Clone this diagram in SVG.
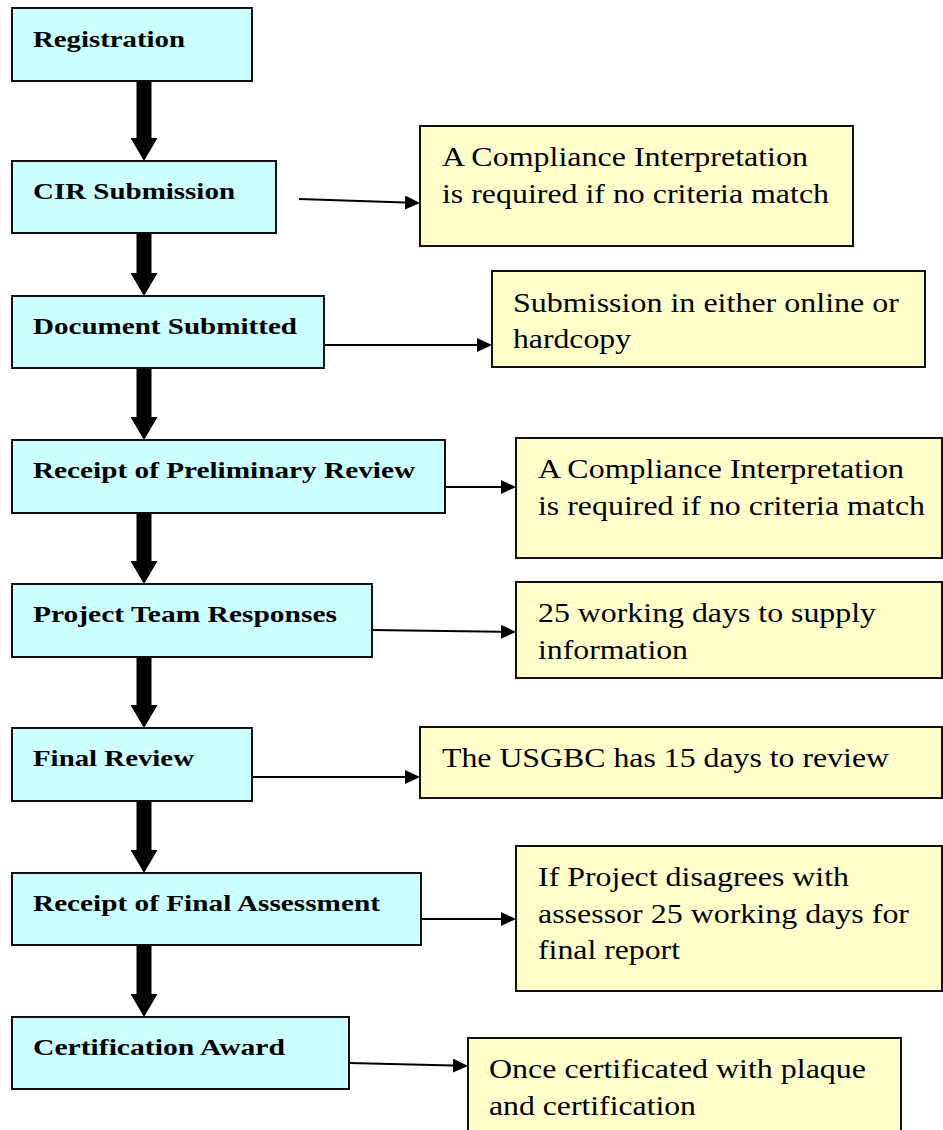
<svg xmlns="http://www.w3.org/2000/svg" width="943" height="1130" viewBox="0 0 943 1130">
<style>
.step{fill:#CCFFFF;stroke:#111;stroke-width:2}
.note{fill:#FFFFCC;stroke:#111;stroke-width:2}
text{font-family:'Liberation Serif','Times New Roman',Times,serif;fill:#000}
.st{font-weight:bold;font-size:24px}
.nt{font-size:27px}
.thick{stroke:#000;stroke-width:15;fill:none}
.thin{stroke:#000;stroke-width:2;fill:none}
</style>
<defs>
<marker id="bigHead" markerUnits="userSpaceOnUse" viewBox="0 0 23 27" refX="0" refY="13.5" markerWidth="23" markerHeight="27" orient="auto">
<path d="M0,0 L23,13.5 L0,27 Z" fill="#000"/>
</marker>
<marker id="smallHead" markerUnits="userSpaceOnUse" viewBox="0 0 15 14" refX="0" refY="7" markerWidth="15" markerHeight="14" orient="auto">
<path d="M0,0 L15,7 L0,14 Z" fill="#000"/>
</marker>
</defs>
<rect width="943" height="1130" fill="#fff"/>
<g id="connectors">
<line class="thick" x1="144" y1="81" x2="144" y2="138" marker-end="url(#bigHead)"/>
<line class="thick" x1="144" y1="233" x2="144" y2="273" marker-end="url(#bigHead)"/>
<line class="thick" x1="144" y1="368" x2="144" y2="417" marker-end="url(#bigHead)"/>
<line class="thick" x1="144" y1="513" x2="144" y2="561" marker-end="url(#bigHead)"/>
<line class="thick" x1="144" y1="657" x2="144" y2="705" marker-end="url(#bigHead)"/>
<line class="thick" x1="144" y1="801" x2="144" y2="850" marker-end="url(#bigHead)"/>
<line class="thick" x1="144" y1="945" x2="144" y2="994" marker-end="url(#bigHead)"/>
<line class="thin" x1="299" y1="199" x2="405" y2="202.5" marker-end="url(#smallHead)"/>
<line class="thin" x1="324" y1="345" x2="477" y2="345" marker-end="url(#smallHead)"/>
<line class="thin" x1="445" y1="487" x2="501" y2="487" marker-end="url(#smallHead)"/>
<line class="thin" x1="372" y1="630" x2="501" y2="631.8" marker-end="url(#smallHead)"/>
<line class="thin" x1="252" y1="777" x2="405" y2="777" marker-end="url(#smallHead)"/>
<line class="thin" x1="421" y1="919" x2="501" y2="919" marker-end="url(#smallHead)"/>
<line class="thin" x1="349" y1="1063" x2="453" y2="1065.6" marker-end="url(#smallHead)"/>
</g>
<g id="registration"><rect class="step" x="12" y="8" width="240" height="73"/><text class="st" x="33" y="47" textLength="152" lengthAdjust="spacingAndGlyphs">Registration</text></g>
<g id="cir-submission"><rect class="step" x="12" y="161" width="264" height="72"/><text class="st" x="33" y="199" textLength="202" lengthAdjust="spacingAndGlyphs">CIR Submission</text></g>
<g id="document-submitted"><rect class="step" x="12" y="296" width="312" height="72"/><text class="st" x="33" y="334" textLength="264" lengthAdjust="spacingAndGlyphs">Document Submitted</text></g>
<g id="receipt-preliminary"><rect class="step" x="12" y="440" width="433" height="73"/><text class="st" x="33" y="478" textLength="382" lengthAdjust="spacingAndGlyphs">Receipt of Preliminary Review</text></g>
<g id="project-team"><rect class="step" x="12" y="584" width="360" height="73"/><text class="st" x="33" y="622" textLength="304" lengthAdjust="spacingAndGlyphs">Project Team Responses</text></g>
<g id="final-review"><rect class="step" x="12" y="728" width="240" height="73"/><text class="st" x="33" y="766" textLength="161" lengthAdjust="spacingAndGlyphs">Final Review</text></g>
<g id="receipt-final"><rect class="step" x="12" y="873" width="409" height="72"/><text class="st" x="33" y="911" textLength="347" lengthAdjust="spacingAndGlyphs">Receipt of Final Assessment</text></g>
<g id="certification-award"><rect class="step" x="12" y="1017" width="337" height="72"/><text class="st" x="33" y="1055" textLength="252" lengthAdjust="spacingAndGlyphs">Certification Award</text></g>
<g id="note-cir"><rect class="note" x="420" y="126" width="433" height="120"/>
<text class="nt" x="442" y="166" textLength="366" lengthAdjust="spacingAndGlyphs">A Compliance Interpretation</text>
<text class="nt" x="442" y="202.7" textLength="387" lengthAdjust="spacingAndGlyphs">is required if no criteria match</text></g>
<g id="note-document"><rect class="note" x="492" y="271" width="433" height="96"/>
<text class="nt" x="513" y="311.5" textLength="386" lengthAdjust="spacingAndGlyphs">Submission in either online or</text>
<text class="nt" x="513" y="348" textLength="118" lengthAdjust="spacingAndGlyphs">hardcopy</text></g>
<g id="note-preliminary"><rect class="note" x="516" y="438" width="426" height="120"/>
<text class="nt" x="538" y="478" textLength="366" lengthAdjust="spacingAndGlyphs">A Compliance Interpretation</text>
<text class="nt" x="538" y="514.7" textLength="387" lengthAdjust="spacingAndGlyphs">is required if no criteria match</text></g>
<g id="note-team"><rect class="note" x="516" y="582" width="426" height="96"/>
<text class="nt" x="538" y="622" textLength="338" lengthAdjust="spacingAndGlyphs">25 working days to supply</text>
<text class="nt" x="538" y="658.7" textLength="150" lengthAdjust="spacingAndGlyphs">information</text></g>
<g id="note-final-review"><rect class="note" x="420" y="727" width="522" height="71"/>
<text class="nt" x="442" y="767" textLength="447" lengthAdjust="spacingAndGlyphs">The USGBC has 15 days to review</text></g>
<g id="note-assessment"><rect class="note" x="516" y="846" width="426" height="145"/>
<text class="nt" x="538" y="886" textLength="311" lengthAdjust="spacingAndGlyphs">If Project disagrees with</text>
<text class="nt" x="538" y="922.7" textLength="371" lengthAdjust="spacingAndGlyphs">assessor 25 working days for</text>
<text class="nt" x="538" y="959.3" textLength="142" lengthAdjust="spacingAndGlyphs">final report</text></g>
<g id="note-award"><rect class="note" x="468" y="1038" width="433" height="100"/>
<text class="nt" x="489" y="1078.3" textLength="377" lengthAdjust="spacingAndGlyphs">Once certificated with plaque</text>
<text class="nt" x="489" y="1115" textLength="207" lengthAdjust="spacingAndGlyphs">and certification</text></g>
</svg>
